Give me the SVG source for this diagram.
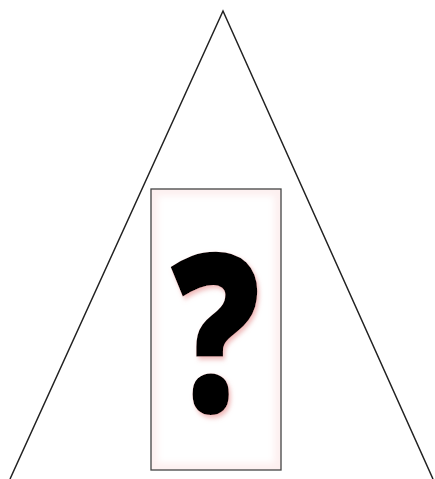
<svg xmlns="http://www.w3.org/2000/svg" width="435" height="479" viewBox="0 0 435 479">
<defs>
<filter id="glow" x="-20%" y="-20%" width="140%" height="140%">
<feGaussianBlur stdDeviation="3"/>
</filter>
<filter id="shadow" x="-20%" y="-20%" width="140%" height="140%">
<feGaussianBlur in="SourceAlpha" stdDeviation="2.5" result="b"/>
<feOffset in="b" dx="3" dy="3" result="o"/>
<feFlood flood-color="#e89a9a" flood-opacity="0.7"/>
<feComposite in2="o" operator="in" result="s"/>
<feMerge><feMergeNode in="s"/><feMergeNode in="SourceGraphic"/></feMerge>
</filter>
</defs>
<style>
.tri{fill:none;stroke:#222;stroke-width:1.5}
.q{font-family:"Open Sans","DejaVu Sans",sans-serif;font-weight:800;font-size:222px;fill:#000}
</style>
<rect width="435" height="479" fill="#fff"/>
<g id="triangle"><polyline class="tri" points="10,479 223,11 433,479"/></g>
<g id="box">
<rect x="151" y="189" width="130" height="281" fill="#fdf0f0"/>
<rect x="158" y="196" width="116" height="267" fill="#fff" filter="url(#glow)"/>
<rect x="151" y="189" width="130" height="281" fill="none" stroke="#444" stroke-width="1.3"/>
<g transform="translate(215.5,412) scale(0.8,1)">
<text class="q" x="0" y="0" text-anchor="middle" filter="url(#shadow)">?</text>
</g>
</g>
</svg>
